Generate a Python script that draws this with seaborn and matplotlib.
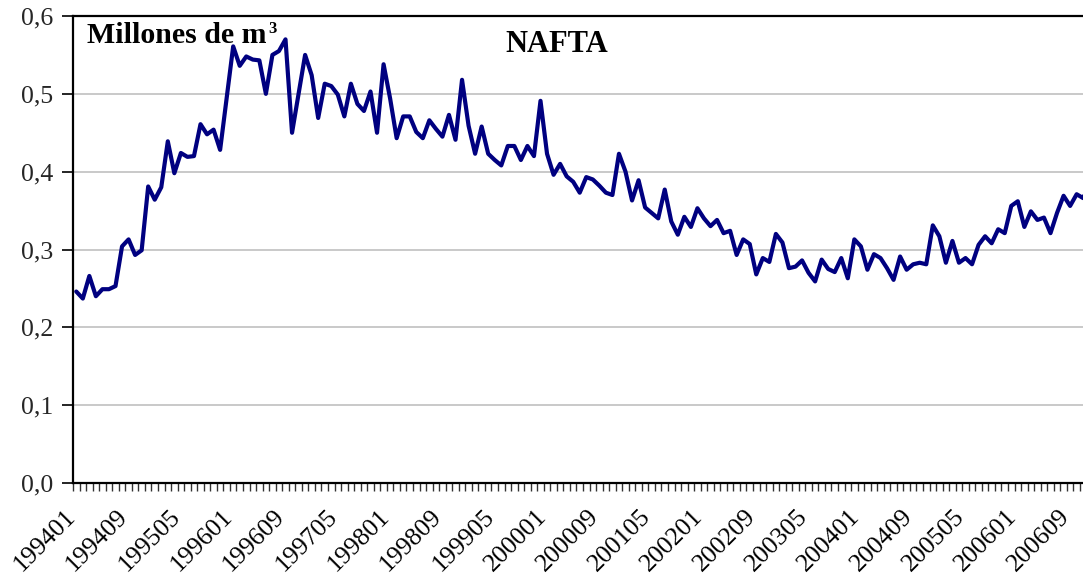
import numpy as np
import pandas as pd
import matplotlib
matplotlib.use("Agg")
import matplotlib.pyplot as plt
import matplotlib.transforms as mtransforms
from matplotlib.ticker import FuncFormatter
import seaborn as sns

# monthly categories 199401 .. 200612
years = list(range(1994, 2007))
months = [f"{y}{m:02d}" for y in years for m in range(1, 13)]

# NAFTA, millones de m3
nafta = [
    0.246, 0.237, 0.266, 0.240, 0.249, 0.249, 0.253, 0.304, 0.313, 0.293,
    0.299, 0.381, 0.364, 0.380, 0.439, 0.398, 0.424, 0.419, 0.420, 0.461,
    0.448, 0.454, 0.428, 0.495, 0.561, 0.536, 0.548, 0.544, 0.543, 0.500,
    0.550, 0.555, 0.570, 0.450, 0.500, 0.550, 0.524, 0.469, 0.513, 0.510,
    0.499, 0.471, 0.513, 0.487, 0.478, 0.503, 0.450, 0.538, 0.494, 0.443,
    0.471, 0.471, 0.451, 0.443, 0.466, 0.455, 0.445, 0.473, 0.441, 0.518,
    0.459, 0.423, 0.458, 0.423, 0.415, 0.408, 0.433, 0.433, 0.415, 0.433,
    0.420, 0.491, 0.423, 0.396, 0.410, 0.394, 0.387, 0.373, 0.393, 0.390,
    0.382, 0.373, 0.370, 0.423, 0.400, 0.363, 0.389, 0.354, 0.347, 0.340,
    0.377, 0.336, 0.319, 0.342, 0.329, 0.353, 0.340, 0.330, 0.338, 0.321,
    0.324, 0.293, 0.313, 0.307, 0.268, 0.289, 0.284, 0.320, 0.309, 0.276,
    0.278, 0.286, 0.270, 0.259, 0.287, 0.275, 0.271, 0.289, 0.263, 0.313,
    0.304, 0.274, 0.294, 0.289, 0.276, 0.261, 0.291, 0.274, 0.281, 0.283,
    0.281, 0.331, 0.317, 0.283, 0.311, 0.283, 0.289, 0.281, 0.306, 0.317,
    0.308, 0.326, 0.321, 0.356, 0.362, 0.329, 0.349, 0.338, 0.341, 0.321,
    0.347, 0.369, 0.356, 0.371, 0.366, 0.390,
]

label_step = 8
y_ticks = [0.0, 0.1, 0.2, 0.3, 0.4, 0.5, 0.6]

df = pd.DataFrame({"pos": np.arange(len(nafta)), "mes": months[:len(nafta)], "nafta": nafta})

sns.set_theme(style="white")
plt.rcParams["font.family"] = ["Liberation Serif", "DejaVu Serif"]

W, H = 1083, 575
fig = plt.figure(figsize=(W / 100, H / 100), dpi=100)
left, bottom, top = 73, 483, 16
ax_w = 1020
ax = fig.add_axes([left / W, (H - bottom) / H, ax_w / W, (bottom - top) / H])

sns.lineplot(data=df, x="pos", y="nafta", ax=ax, color="#000080", linewidth=3.0)

n = len(months)
ax.set_xlim(-0.5, n - 0.5)
ax.set_ylim(0, 0.6)
ax.set_xlabel("")
ax.set_ylabel("")

ax.set_yticks(y_ticks)
ax.yaxis.set_major_formatter(FuncFormatter(lambda v, p: f"{v:.1f}".replace(".", ",")))
ax.yaxis.grid(True, color="#c0c0c0", linewidth=1.2)
ax.set_axisbelow(True)

major = list(range(0, n, label_step))
ax.set_xticks(major)
ax.set_xticklabels([months[i] for i in major], rotation=45, ha="right", va="top",
                   rotation_mode="anchor")
ax.set_xticks(np.arange(-0.5, n, 1), minor=True)
ax.tick_params(axis="x", which="major", length=0, pad=16, labelsize=18.5, colors="black")
ax.tick_params(axis="x", which="minor", length=6, width=1, color="#333333", direction="out", bottom=True)
ax.tick_params(axis="y", which="major", length=8, width=1.2, color="black", direction="out",
               pad=6, labelsize=18.5, left=True)

offset = mtransforms.ScaledTranslation(-12 / 100, 0, fig.dpi_scale_trans)
for lab in ax.get_xticklabels():
    lab.set_transform(lab.get_transform() + offset)

for s in ax.spines.values():
    s.set_color("black")
    s.set_linewidth(1.6)
    s.set_visible(True)

fig.text(87 / W, 1 - 43 / H, "Millones de m", ha="left", va="baseline",
         fontsize=21.5, fontweight="bold", color="black")
fig.text(268 / W, 1 - 33 / H, "3", ha="left", va="baseline",
         fontsize=12, fontweight="bold", color="black")
fig.text(557 / W, 1 - 51.5 / H, "NAFTA", ha="center", va="baseline",
         fontsize=22, fontweight="bold", color="black")

fig.savefig("out.png", dpi=100)
